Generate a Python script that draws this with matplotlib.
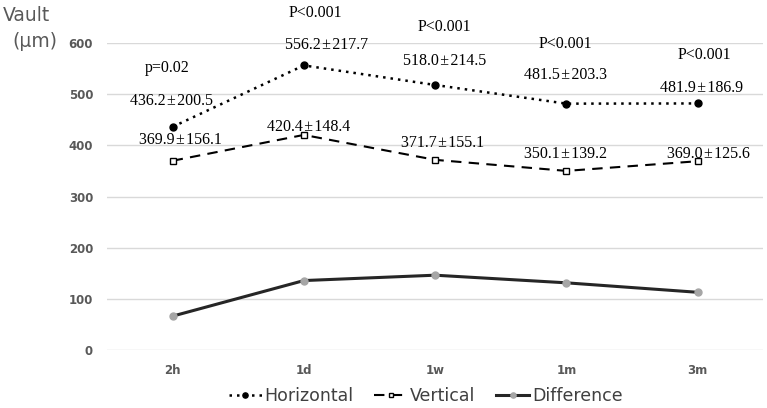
import matplotlib
matplotlib.use("Agg")
import matplotlib.pyplot as plt

# ---- data ----
categories = ["2h", "1d", "1w", "1m", "3m"]
horizontal = [436.2, 556.2, 518.0, 481.5, 481.9]
horizontal_sd = [200.5, 217.7, 214.5, 203.3, 186.9]
vertical = [369.9, 420.4, 371.7, 350.1, 369.0]
vertical_sd = [156.1, 148.4, 155.1, 139.2, 125.6]
difference = [66.3, 135.8, 146.3, 131.4, 112.9]
p_labels = ["p=0.02", "P<0.001", "P<0.001", "P<0.001", "P<0.001"]
y_ticks = [0, 100, 200, 300, 400, 500, 600]

# ---- label layout (data coordinates) ----
p_pos = [(-0.04, 551), (1.09, 659), (2.07, 631), (2.99, 598), (4.05, 577)]
h_pos = [(-0.01, 487), (1.17, 597), (2.07, 564), (2.99, 538), (4.03, 513)]
v_pos = [(0.06, 411), (1.04, 435), (2.06, 405), (2.99, 384), (4.08, 384)]

fig = plt.figure(figsize=(7.67, 4.08), dpi=100)
ax = fig.add_axes([0.1395, 0.142, 0.8555, 0.7526])

x = list(range(len(categories)))
ax.plot(x, horizontal, linestyle=(0, (1, 2)), color="black", lw=1.8,
        marker="o", markersize=5, markerfacecolor="black", label="Horizontal")
ax.plot(x, vertical, linestyle=(0, (5, 3.5)), color="black", lw=1.5,
        marker="s", markersize=4.8, markerfacecolor="white", markeredgewidth=1,
        label="Vertical")
ax.plot(x, difference, linestyle="-", color="#262626", lw=2.2,
        marker="o", markersize=5, markerfacecolor="#a6a6a6",
        markeredgecolor="#a6a6a6", label="Difference")

serif = ["Liberation Serif", "DejaVu Serif"]
pm = "\u200a\u00b1\u200a"
for i in x:
    ax.text(*p_pos[i], p_labels[i], ha="center", va="center",
            fontsize=11.5, family=serif, clip_on=False)
    ax.text(*h_pos[i], f"{horizontal[i]:.1f}{pm}{horizontal_sd[i]:.1f}",
            ha="center", va="center", fontsize=11.5, family=serif, clip_on=False)
    ax.text(*v_pos[i], f"{vertical[i]:.1f}{pm}{vertical_sd[i]:.1f}",
            ha="center", va="center", fontsize=11.5, family=serif, clip_on=False)

ax.set_xlim(-0.5, len(categories) - 0.5)
ax.set_ylim(0, 600)
ax.set_yticks(y_ticks)
ax.set_xticks(x)
ax.set_xticklabels(categories)
ax.tick_params(length=0, labelsize=8.5, labelcolor="#595959", pad=10)
for lab in ax.get_xticklabels() + ax.get_yticklabels():
    lab.set_fontweight("bold")
ax.yaxis.grid(True, color="#d9d9d9", lw=1)
ax.set_axisbelow(True)
for s in ax.spines.values():
    s.set_visible(False)

fig.text(0.004, 0.962, "Vault", fontsize=13.5, color="#595959", ha="left", va="center")
fig.text(0.016, 0.898, "(\u03bcm)", fontsize=13.5, color="#595959", ha="left", va="center")

leg = fig.legend(loc="center", bbox_to_anchor=(0.555, 0.03), ncol=3, frameon=False,
                 fontsize=12.5, handlelength=1.9, columnspacing=1.2, handletextpad=0.15,
                 markerscale=0.75)
for t in leg.get_texts():
    t.set_color("#404040")

fig.savefig("out.png", dpi=100)
